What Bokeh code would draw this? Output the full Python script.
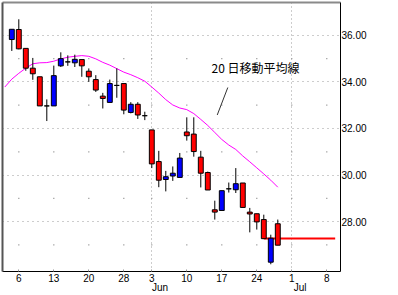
from bokeh.plotting import figure
from bokeh.models import FixedTicker, LinearAxis, Range1d, PrintfTickFormatter
from bokeh.core.properties import value
from bokeh.embed import file_html
from bokeh.resources import INLINE

# ---- data (trading-day index 0 = May 3) ----
opens = [35.82, 36.25, 35.44, 34.59, 34.22, 32.97, 32.97, 34.69, 34.86, 34.82,
         34.96, 34.46, 34.10, 33.39, 33.12, 33.85, 33.93, 32.69, 33.04, 32.55,
         31.94, 30.58, 29.81, 29.96, 29.90, 31.85, 31.76, 30.77, 30.11, 28.51,
         28.48, 29.41, 29.37, 29.66, 28.41, 28.34, 28.09, 26.26, 27.91]
closes = [36.26, 35.42, 34.59, 34.35, 32.97, 32.97, 34.27, 35.00, 34.86, 34.97,
          34.69, 34.22, 33.65, 33.29, 33.93, 33.85, 32.79, 33.04, 32.58, 32.55,
          30.48, 29.78, 29.93, 30.08, 30.73, 31.69, 31.01, 30.08, 29.36, 28.41,
          29.33, 29.41, 29.63, 28.61, 28.33, 27.99, 27.27, 27.29, 26.99]
highs = [36.26, 36.69, 35.44, 35.03, 34.22, 33.25, 34.70, 35.27, 35.14, 35.17,
         34.96, 34.58, 34.29, 33.53, 34.10, 34.58, 33.93, 33.13, 33.13, 32.72,
         31.94, 31.04, 30.18, 30.37, 30.95, 32.48, 32.48, 31.04, 30.15, 28.90,
         29.33, 29.68, 30.30, 29.66, 28.59, 28.34, 28.30, 27.44, 28.09]
lows = [35.33, 35.40, 34.48, 34.09, 32.97, 32.32, 32.97, 34.64, 34.69, 34.64,
        34.22, 34.00, 33.57, 32.86, 33.12, 33.32, 32.61, 32.65, 32.41, 32.36,
        30.30, 29.48, 29.30, 29.75, 29.90, 31.48, 30.79, 29.47, 29.36, 28.09,
        28.48, 29.25, 29.23, 28.61, 27.54, 27.66, 27.27, 26.17, 26.99]

# 20-day moving average, starting one trading day before the first candle
ma_start = -1
ma_values = [33.78, 34.12, 34.37, 34.59, 34.78, 34.82, 34.83, 34.89, 34.99, 35.06,
             35.10, 35.13, 35.10, 34.99, 34.84, 34.72, 34.57, 34.42, 34.31, 34.18,
             34.03, 33.78, 33.52, 33.24, 33.01, 32.88, 32.81, 32.64, 32.39, 32.13,
             31.83, 31.53, 31.29, 31.10, 30.82, 30.57, 30.31, 30.05, 29.78, 29.48]

# horizontal level line
level_value = 27.28
level_from, level_to = 36, 46.2

# axis ticks
week_ticks = [1, 6, 11, 16, 20, 25, 30, 35, 40, 45]
week_labels = ["6", "13", "20", "28", "3", "10", "17", "24", "1", "8"]
month_ticks = [20, 40]
month_labels = ["Jun", "Jul"]
price_ticks = [28, 30, 32, 34, 36]
minor_price = [27, 29, 31, 33, 35]

annot_text = "20 日移動平均線"

# ---- derived ----
idx = list(range(len(opens)))
tops = [max(o, c) for o, c in zip(opens, closes)]
bottoms = [min(o, c) for o, c in zip(opens, closes)]
colors = ["#0000FF" if c > o else ("#FF0000" if c < o else "#000000")
          for o, c in zip(opens, closes)]
ma_x = [ma_start + i for i in range(len(ma_values))]

FONT = "Liberation Sans"
PAD = "\u00a0" * 6   # shifts the month name so it starts at the tick

tick_text = {t: l for t, l in zip(week_ticks, week_labels)}
for m, lab in zip(month_ticks, month_labels):
    tick_text[m] = tick_text[m] + "\n" + PAD + lab

p = figure(width=398, height=295,
           x_range=Range1d(-1.33, 46.96), y_range=Range1d(25.86, 37.41),
           y_axis_location="right", toolbar_location=None, output_backend="svg",
           min_border_left=2, min_border_top=2, min_border_right=58,
           min_border_bottom=22, outline_line_color=None,
           background_fill_color="white", border_fill_color="white")

# grids
p.ygrid.ticker = FixedTicker(ticks=price_ticks)
p.ygrid.grid_line_color = "#9a9a9a"
p.ygrid.grid_line_dash = "1 4"
p.xgrid.ticker = FixedTicker(ticks=month_ticks)
p.xgrid.grid_line_color = "#9a9a9a"
p.xgrid.grid_line_dash = "1 3"

gx, gy = [], []
for t in week_ticks:
    for v in minor_price:
        gx.append(t)
        gy.append(v)
p.scatter(gx, gy, marker="square", size=1.2, color="#9a9a9a", line_color=None)

# x axis (days, with month names on a second line)
xa = p.xaxis[0]
xa.ticker = FixedTicker(ticks=week_ticks)
xa.major_label_overrides = tick_text
xa.axis_line_color = "black"
xa.major_tick_in = 2
xa.major_tick_out = 0
xa.major_tick_line_color = "#999999"
xa.minor_tick_line_color = None
xa.major_label_standoff = 1
xa.major_label_text_font = FONT
xa.major_label_text_font_size = "10px"
xa.major_label_text_color = "black"
xa.major_label_text_line_height = 0.85

# price axis (right)
ya = p.yaxis[0]
ya.ticker = FixedTicker(ticks=price_ticks)
ya.formatter = PrintfTickFormatter(format="%.2f")
ya.axis_line_color = "black"
ya.major_tick_in = 0
ya.major_tick_out = 0
ya.minor_tick_line_color = None
ya.major_label_standoff = 1
ya.major_label_text_font = FONT
ya.major_label_text_font_size = "10px"
ya.major_label_text_color = "black"

# window-like borders on left and top
la = LinearAxis(ticker=FixedTicker(ticks=[]), axis_line_color="#555555", axis_line_width=2,
                major_tick_line_color=None, minor_tick_line_color=None,
                major_label_text_font_size="0px")
p.add_layout(la, "left")
ta = LinearAxis(ticker=FixedTicker(ticks=[]), axis_line_color="#8a8a8a", axis_line_width=2,
                major_tick_line_color=None, minor_tick_line_color=None,
                major_label_text_font_size="0px")
p.add_layout(ta, "above")

# level line
p.line([level_from, level_to], [level_value, level_value], line_color="#FF0000", line_width=2)

# moving average
p.line(ma_x, ma_values, line_color="#FF00FF", line_width=1)

# candles
p.segment(idx, highs, idx, lows, line_color="black", line_width=1)
p.vbar(x=idx, width=0.7, top=tops, bottom=bottoms, fill_color=colors,
       line_color="black", line_width=1)

# annotation
p.text(x=[28.53], y=[34.63], text=[annot_text], text_font=value("Noto Sans CJK JP"),
       text_font_size="12px", text_align="left", text_baseline="middle", text_color="black")
p.segment([29.35], [32.58], [30.86], [33.76], line_color="#333333", line_width=1)

open("out.html", "w").write(file_html(p, INLINE))
